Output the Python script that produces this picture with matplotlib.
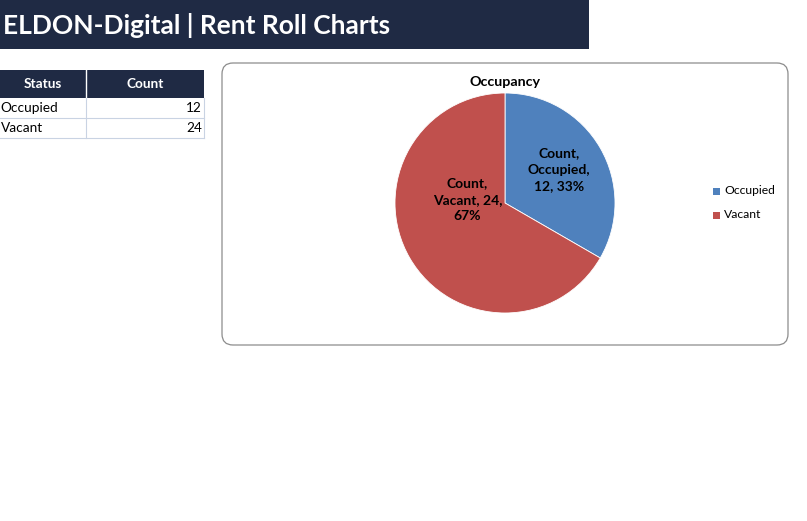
import matplotlib
matplotlib.use("Agg")
import matplotlib.pyplot as plt
from matplotlib.patches import Rectangle, FancyBboxPatch

# ---- data ----
title_text = "ELDON-Digital | Rent Roll Charts"
table_headers = ["Status", "Count"]
statuses = ["Occupied", "Vacant"]
counts = [12, 24]
chart_title = "Occupancy"
series_name = "Count"
colors = ["#4F81BD", "#C0504D"]

NAVY = "#1F2A44"
GRID = "#C9D3E3"
FONT = "Lato"

W, H = 807, 521
fig = plt.figure(figsize=(W / 100, H / 100), dpi=100)
bg = fig.add_axes([0, 0, 1, 1])
bg.set_xlim(0, W)
bg.set_ylim(H, 0)
bg.axis("off")

# header bar
bg.add_patch(Rectangle((0, 0), 589, 49, facecolor=NAVY, edgecolor="none"))
bg.text(3, 25, title_text, color="white", fontsize=19, fontweight="bold",
        family=FONT, va="center", ha="left")

# table
tx0, tx1, tx2 = 0, 86, 204
ty0, ty1, rh = 70, 98, 20
bg.add_patch(Rectangle((tx0, ty0), tx2 - tx0, ty1 - ty0, facecolor=NAVY, edgecolor="none"))
bg.plot([tx1, tx1], [ty0, ty1], color="white", lw=1)
bg.text((tx0 + tx1) / 2, (ty0 + ty1) / 2, table_headers[0], color="white",
        fontweight="bold", fontsize=9.8, family=FONT, ha="center", va="center")
bg.text((tx1 + tx2) / 2, (ty0 + ty1) / 2, table_headers[1], color="white",
        fontweight="bold", fontsize=9.8, family=FONT, ha="center", va="center")
for i, (s, c) in enumerate(zip(statuses, counts)):
    y0 = ty1 + i * rh
    bg.text(tx0 + 0.5, y0 + rh / 2, s, fontsize=9.8, family=FONT, ha="left", va="center", color="black")
    bg.text(tx2 - 2, y0 + rh / 2, str(c), fontsize=9.8, family=FONT, ha="right", va="center", color="black")
    bg.plot([tx0, tx2], [y0 + rh, y0 + rh], color=GRID, lw=0.8)
bg.plot([tx1, tx1], [ty1, ty1 + 2 * rh], color=GRID, lw=0.8)
bg.plot([tx2, tx2], [ty1, ty1 + 2 * rh], color=GRID, lw=0.8)

# chart box
bg.add_patch(FancyBboxPatch((222, 63), 566, 282, boxstyle="round,pad=0,rounding_size=11",
                            facecolor="white", edgecolor="#8C8C8C", lw=0.9))
bg.text(505, 82, chart_title, fontsize=10.3, fontweight="bold", family=FONT,
        ha="center", va="center", color="black")

# pie
cx, cy, r = 505, 203, 110
ax = fig.add_axes([(cx - r) / W, (H - cy - r) / H, 2 * r / W, 2 * r / H])
total = sum(counts)

wedges, texts, autotexts = ax.pie(counts, colors=colors, startangle=90, counterclock=False,
                                  autopct=lambda p: f"{p:.0f}%", pctdistance=0.57,
                                  wedgeprops=dict(edgecolor="white", linewidth=0.6))
autotexts[0].set_text(f"{series_name},\n{statuses[0]},\n{counts[0]}, {round(100*counts[0]/total)}%")
autotexts[1].set_text(f"{series_name},\n{statuses[1]}, {counts[1]},\n{round(100*counts[1]/total)}%")
autotexts[0].set_position((0.49, 0.30))
autotexts[1].set_position((-0.34, 0.03))
for t in autotexts:
    t.set_fontsize(10)
    t.set_fontweight("bold")
    t.set_family(FONT)
    t.set_color("black")
    t.set_linespacing(1.45)
ax.set_xlim(-1, 1)
ax.set_ylim(-1, 1)
ax.set_aspect("equal")

# legend
for i, s in enumerate(statuses):
    y = 191 + i * 24
    bg.add_patch(Rectangle((713, y - 3.5), 7, 7, facecolor=colors[i], edgecolor="none"))
    bg.text(724, y, s, fontsize=8.7, family=FONT, ha="left", va="center", color="black")

fig.savefig("out.png", dpi=100)
